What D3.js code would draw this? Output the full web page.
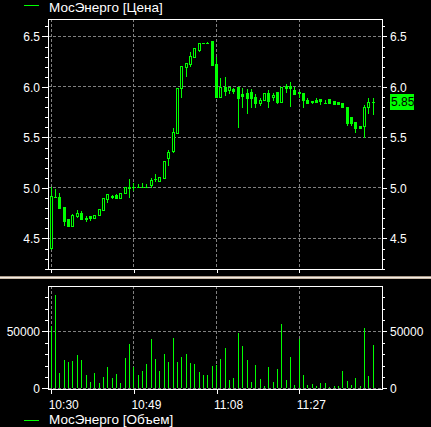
<!DOCTYPE html>
<html>
<head>
<meta charset="utf-8">
<script src="https://cdn.jsdelivr.net/npm/d3@7"></script>
<style>
  html, body { margin: 0; padding: 0; background: #000; }
  svg { display: block; }
  text { font-family: "Liberation Sans", Arial, sans-serif; fill: #fff; }
</style>
</head>
<body>
<svg id="grafico" width="431" height="427"></svg>
<script>
// datos de las velas (una por minuto desde las 10:30)
const horaInicio = "10:30";
const aperturas = [4.407, 4.906, 4.906, 4.81, 4.69, 4.622, 4.72, 4.75, 4.705, 4.72,
  4.70, 4.731, 4.78, 4.892, 4.905, 4.93, 4.90, 4.945, 5.005, 5.01,
  5.01, 5.012, 5.01, 5.027, 5.09, 5.07, 5.10, 5.298, 5.367, 5.546,
  5.991, 6.199, 6.229, 6.298, 6.364, 6.43, 6.435, 6.453, 6.222, 5.902,
  5.995, 5.968, 5.982, 5.995, 5.931, 5.94, 5.95, 5.90, 5.843, 5.869,
  5.94, 5.896, 5.95, 5.853, 6.008, 6.008, 5.968, 5.95, 5.942, 5.872,
  5.857, 5.872, 5.879, 5.839, 5.879, 5.859, 5.849, 5.843, 5.80, 5.704,
  5.651, 5.612, 5.615, 5.797, 5.855];
const maximos = [5.006, 4.985, 4.951, 4.81, 4.69, 4.741, 4.777, 4.77, 4.72, 4.72,
  4.73, 4.79, 4.90, 4.936, 4.93, 4.94, 4.945, 5.005, 5.087, 5.05,
  5.04, 5.05, 5.04, 5.095, 5.136, 5.107, 5.265, 5.38, 5.592, 5.988,
  6.206, 6.233, 6.345, 6.39, 6.431, 6.43, 6.445, 6.453, 6.298, 6.084,
  6.10, 5.995, 5.985, 5.995, 5.985, 5.98, 5.975, 5.93, 5.89, 5.939,
  5.966, 5.94, 5.95, 5.997, 6.027, 6.05, 5.995, 5.95, 5.942, 5.889,
  5.857, 5.889, 5.879, 5.87, 5.879, 5.859, 5.849, 5.843, 5.80, 5.704,
  5.651, 5.612, 5.82, 5.886, 5.886];
const minimos = [4.40, 4.906, 4.803, 4.635, 4.62, 4.622, 4.71, 4.69, 4.675, 4.68,
  4.70, 4.731, 4.78, 4.86, 4.897, 4.90, 4.90, 4.945, 4.912, 4.975,
  5.005, 5.005, 5.005, 5.01, 5.07, 5.07, 5.10, 5.229, 5.357, 5.546,
  5.902, 6.11, 6.209, 6.298, 6.355, 6.43, 6.43, 6.219, 5.902, 5.902,
  5.919, 5.936, 5.936, 5.605, 5.803, 5.74, 5.80, 5.80, 5.823, 5.869,
  5.80, 5.87, 5.837, 5.853, 5.945, 5.81, 5.929, 5.90, 5.803, 5.839,
  5.837, 5.853, 5.829, 5.837, 5.839, 5.833, 5.829, 5.803, 5.622, 5.62,
  5.552, 5.592, 5.506, 5.744, 5.728];
const cierres = [4.919, 4.906, 4.803, 4.67, 4.62, 4.731, 4.75, 4.69, 4.695, 4.70,
  4.73, 4.79, 4.90, 4.936, 4.915, 4.90, 4.945, 5.005, 5.0, 5.01,
  5.01, 5.008, 5.01, 5.077, 5.09, 5.107, 5.265, 5.354, 5.55, 5.988,
  6.206, 6.233, 6.305, 6.39, 6.431, 6.43, 6.432, 6.219, 5.902, 5.995,
  5.961, 5.995, 5.961, 5.892, 5.909, 5.89, 5.89, 5.84, 5.87, 5.939,
  5.86, 5.919, 5.855, 5.997, 5.988, 5.988, 5.929, 5.938, 5.869, 5.839,
  5.853, 5.853, 5.859, 5.837, 5.839, 5.833, 5.829, 5.803, 5.638, 5.638,
  5.595, 5.592, 5.797, 5.85, 5.85];
const volumenes = [55000, 82000, 13600, 24500, 22700, 23600, 29500, 24500, 11800, 5600,
  13600, 4800, 10000, 18300, 9100, 12700, 4800, 26300, 38700, 18300,
  11800, 15300, 20900, 43000, 25400, 15300, 30300, 22700, 44000, 22700,
  27100, 30300, 21800, 20900, 14400, 11800, 11800, 19200, 20100, 25400,
  35100, 7700, 9400, 48400, 36800, 24500, 5900, 20100, 8500, 2300,
  18300, 5900, 16500, 56300, 7700, 27100, 3200, 43300, 12100, 3200,
  4200, 2300, 5000, 5000, 1500, 2300, 2300, 15600, 6800, 3200,
  9400, 2300, 52800, 11200, 37800];

// etiquetas y marcas de los ejes
const ticksHora = ["10:30", "10:49", "11:08", "11:27"];
const ticksPrecio = [4.5, 5.0, 5.5, 6.0, 6.5];
const ticksPrecioMenor = [4.2, 4.3, 4.4, 4.6, 4.7, 4.8, 4.9, 5.1, 5.2, 5.3, 5.4, 5.6, 5.7, 5.8, 5.9, 6.1, 6.2, 6.3, 6.4, 6.6];
const ticksVolumen = [0, 50000];
const ticksVolumenMenor = [10000, 20000, 30000, 40000, 60000, 70000, 80000];
const leyendaPrecio = "МосЭнерго [Цена]";
const leyendaVolumen = "МосЭнерго [Объем]";

const VERDE = "#00ff00";
const GRIS = "#808080";

/* ################ CONFIGURACION ################ */
let parseHora = d3.timeParse("%H:%M");
let t0 = parseHora(horaInicio);
let minuto = 60000;
let velas = aperturas.map((o, i) => ({
  fecha: new Date(t0.getTime() + i * minuto),
  o: o, h: maximos[i], l: minimos[i], c: cierres[i], v: volumenes[i]
}));

let izq = 48, der = 382;
let panelPrecio = { top: 19, bottom: 269 };
let panelVol = { top: 286, bottom: 389 };

let xScale = d3.scaleTime()
  .domain([new Date(t0.getTime() - 0.735 * minuto), new Date(t0.getTime() + 76.02 * minuto)])
  .range([izq, der]);

let yPrecio = d3.scaleLinear()
  .domain([6.5 - (panelPrecio.bottom - 36.4) / 101, 6.5 + (36.4 - panelPrecio.top) / 101])
  .range([panelPrecio.bottom, panelPrecio.top]);

let yVol = d3.scaleLinear()
  .domain([0, 50000 * (388.3 - panelVol.top) / 57])
  .range([388.3, panelVol.top]);

let svg = d3.select("#grafico");
svg.append("rect").attr("width", 431).attr("height", 427).attr("fill", "#000");

let px = (v) => Math.floor(v) + 0.5;
let xHora = (s) => xScale(parseHora(s));

/* ################ REJILLA ################ */
function dibujarRejilla(yScale, valores, panel) {
  let g = svg.append("g").attr("stroke", GRIS).attr("stroke-dasharray", "3,2")
    .attr("shape-rendering", "crispEdges");
  g.selectAll(".h").data(valores).enter().append("line")
    .attr("x1", izq).attr("x2", der)
    .attr("y1", (d) => px(yScale(d))).attr("y2", (d) => px(yScale(d)));
  g.selectAll(".v").data(ticksHora).enter().append("line")
    .attr("x1", (d) => px(xHora(d))).attr("x2", (d) => px(xHora(d)))
    .attr("y1", panel.top).attr("y2", panel.bottom);
}
dibujarRejilla(yPrecio, ticksPrecio, panelPrecio);
dibujarRejilla(yVol, ticksVolumen, panelVol);

/* ################ VELAS ################ */
let gVelas = svg.append("g").attr("shape-rendering", "crispEdges");
let velaG = gVelas.selectAll("g").data(velas).enter().append("g");

// mechas
velaG.append("line")
  .attr("x1", (d) => px(xScale(d.fecha))).attr("x2", (d) => px(xScale(d.fecha)))
  .attr("y1", (d) => Math.round(yPrecio(d.h)))
  .attr("y2", (d) => Math.round(yPrecio(d.l)) + 1)
  .attr("stroke", VERDE);

velaG.each(function (d) {
  let g = d3.select(this);
  let cx = Math.floor(xScale(d.fecha));
  let yo = Math.round(yPrecio(d.o));
  let yc = Math.round(yPrecio(d.c));
  if (yo === yc) {
    g.append("line").attr("x1", cx - 1).attr("x2", cx + 2)
      .attr("y1", yo + 0.5).attr("y2", yo + 0.5).attr("stroke", VERDE);
  } else if (d.c > d.o) {
    // vela alcista: hueca
    g.append("rect").attr("x", cx - 0.5).attr("y", yc + 0.5)
      .attr("width", 2).attr("height", yo - yc)
      .attr("fill", "#000").attr("stroke", VERDE);
  } else {
    // vela bajista: rellena
    g.append("rect").attr("x", cx - 1).attr("y", yo)
      .attr("width", 3).attr("height", yc - yo + 1)
      .attr("fill", VERDE);
  }
});

/* ################ VOLUMEN ################ */
svg.append("g").attr("shape-rendering", "crispEdges")
  .selectAll("line").data(velas).enter().append("line")
  .attr("x1", (d) => px(xScale(d.fecha))).attr("x2", (d) => px(xScale(d.fecha)))
  .attr("y1", 388).attr("y2", (d) => Math.round(yVol(d.v)))
  .attr("stroke", VERDE);

/* ################ MARCOS Y EJES ################ */
function estiloEje(g) {
  g.attr("font-family", null).attr("font-size", null);
  g.select(".domain").remove();
  g.selectAll("line").attr("stroke", "#fff").attr("shape-rendering", "crispEdges");
  g.selectAll("text").style("font-size", "12px").attr("fill", "#fff").attr("dy", "0.37em");
}

function dibujarEjesY(yScale, mayores, menores, fmt) {
  svg.append("g").attr("transform", `translate(${izq},0)`)
    .call(d3.axisLeft(yScale).tickValues(menores).tickSize(3).tickFormat(""))
    .call(estiloEje);
  svg.append("g").attr("transform", `translate(${izq},0)`)
    .call(d3.axisLeft(yScale).tickValues(mayores).tickSize(6).tickPadding(2).tickFormat(fmt))
    .call(estiloEje);
  svg.append("g").attr("transform", `translate(${der},0)`)
    .call(d3.axisRight(yScale).tickValues(menores).tickSize(3).tickFormat(""))
    .call(estiloEje);
  svg.append("g").attr("transform", `translate(${der},0)`)
    .call(d3.axisRight(yScale).tickValues(mayores).tickSize(5).tickPadding(3).tickFormat(fmt))
    .call(estiloEje);
}
dibujarEjesY(yPrecio, ticksPrecio, ticksPrecioMenor, d3.format(".1f"));
dibujarEjesY(yVol, ticksVolumen, ticksVolumenMenor, d3.format("d"));

// marcos blancos
[panelPrecio, panelVol].forEach((p) => {
  svg.append("rect").attr("x", izq + 0.5).attr("y", p.top + 0.5)
    .attr("width", der - izq).attr("height", p.bottom - p.top)
    .attr("fill", "none").attr("stroke", "#fff").attr("shape-rendering", "crispEdges");
});

// marcas de hora bajo el panel de precio
svg.append("g").attr("transform", `translate(0,${panelPrecio.bottom + 1})`)
  .call(d3.axisBottom(xScale).tickValues(ticksHora.map(parseHora)).tickSize(3).tickFormat(""))
  .call(estiloEje);

// eje de horas
let ejeHoras = svg.append("g").attr("transform", `translate(0,${panelVol.bottom + 1})`)
  .call(d3.axisBottom(xScale).tickValues(ticksHora.map(parseHora)).tickSize(4)
    .tickFormat(d3.timeFormat("%H:%M")))
  .call(estiloEje);
ejeHoras.selectAll("text").attr("text-anchor", "start").attr("x", -3).attr("y", 10).attr("dy", "0.71em");

// separador entre paneles
let separador = [["#a89888", 276], ["#f2ece4", 277], ["#c8b8a6", 278]];
separador.forEach(([color, y]) => {
  svg.append("line").attr("x1", 0).attr("x2", 431).attr("y1", y + 0.5).attr("y2", y + 0.5)
    .attr("stroke", color).attr("shape-rendering", "crispEdges");
});

// etiqueta del último precio
let ultimo = velas[velas.length - 1];
let yUlt = yPrecio(ultimo.c);
svg.append("rect").attr("x", 390).attr("y", Math.round(yUlt) - 8).attr("width", 24).attr("height", 16)
  .attr("fill", VERDE);
svg.append("text").attr("x", 391).attr("y", yUlt).attr("dy", "0.37em")
  .style("font-size", "12px").style("fill", "#000").text(d3.format(".2f")(ultimo.c));

/* ################ LEYENDAS ################ */
function dibujarLeyenda(texto, yLinea, yTexto) {
  svg.append("line").attr("x1", 24).attr("x2", 39).attr("y1", yLinea + 0.5).attr("y2", yLinea + 0.5)
    .attr("stroke", VERDE).attr("shape-rendering", "crispEdges");
  svg.append("text").attr("x", 49).attr("y", yTexto).style("font-size", "13.5px").text(texto);
}
dibujarLeyenda(leyendaPrecio, 5, 11.5);
dibujarLeyenda(leyendaVolumen, 420, 424);
</script>
</body>
</html>
